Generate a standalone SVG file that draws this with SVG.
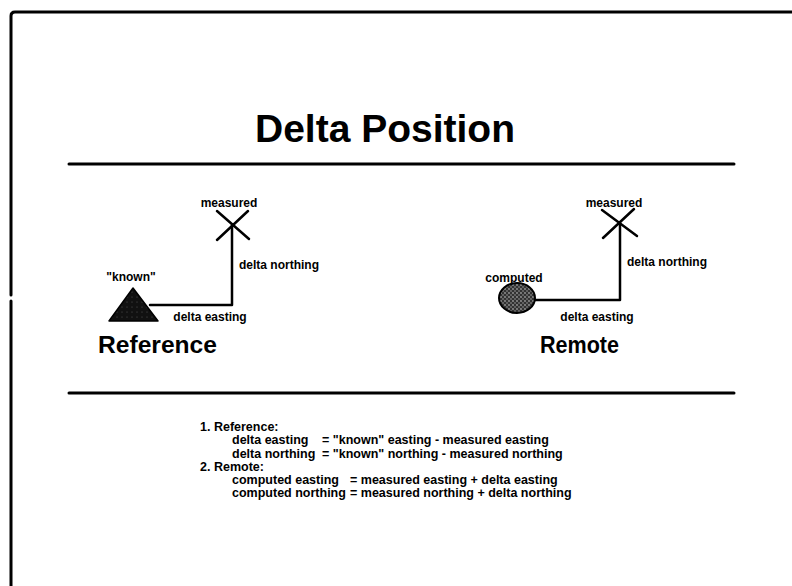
<svg xmlns="http://www.w3.org/2000/svg" width="792" height="586" viewBox="0 0 792 586">
<defs>
<style>
.t{font-family:"Liberation Sans",Arial,sans-serif;font-weight:bold;fill:#000}
.s{font-size:12px}
.eq{font-size:12.5px}
.ln{stroke:#000;stroke-width:2.5;fill:none;stroke-linecap:round;stroke-linejoin:round}
.rule{stroke:#000;stroke-width:3;fill:none;stroke-linecap:round}
</style>
<pattern id="dots" width="4" height="4" patternUnits="userSpaceOnUse">
<rect width="4" height="4" fill="#333"/>
<circle cx="1" cy="1" r="0.9" fill="#999"/>
<circle cx="3" cy="3" r="0.9" fill="#777"/>
</pattern>
<pattern id="tri" width="5" height="5" patternUnits="userSpaceOnUse">
<rect width="5" height="5" fill="#111"/>
<circle cx="2" cy="2" r="0.6" fill="#555"/>
</pattern>
</defs>
<rect width="792" height="586" fill="#fff"/>
<g id="frame">
<path class="rule" d="M11 295 V16 Q11 12 15 12 H792"/>
<path class="rule" d="M11 301 V586"/>
</g>
<g id="title"><text class="t" x="385" y="142" font-size="39" text-anchor="middle">Delta Position</text></g>
<g id="rules">
<line class="rule" x1="69" y1="164" x2="734" y2="164"/>
<line class="rule" x1="69" y1="393" x2="734" y2="393"/>
</g>
<g id="connectors">
<path class="ln" d="M150 305 H232 V225"/>
<path class="ln" d="M535 300 H620 V223"/>
</g>
<g id="known">
<polygon points="133,288 109,321 158,321" fill="url(#tri)" stroke="#000" stroke-width="1.5" stroke-linejoin="round"/>
<text class="t s" x="131" y="281" text-anchor="middle">"known"</text>
</g>
<g id="measured-left">
<path class="ln" d="M217 211 L249 239 M248 211 L217 240"/>
<text class="t s" x="229" y="207" text-anchor="middle">measured</text>
</g>
<g id="computed">
<ellipse cx="517" cy="298" rx="18" ry="15" fill="url(#dots)" stroke="#000" stroke-width="2"/>
<text class="t s" x="514" y="282" text-anchor="middle">computed</text>
</g>
<g id="measured-right">
<path class="ln" d="M602 210 L637 236 M634 209 L603 238"/>
<text class="t s" x="614" y="207" text-anchor="middle">measured</text>
</g>
<g id="labels">
<text class="t s" x="239" y="269">delta northing</text>
<text class="t s" x="210" y="321" text-anchor="middle">delta easting</text>
<text class="t s" x="627" y="266">delta northing</text>
<text class="t s" x="597" y="321" text-anchor="middle">delta easting</text>
</g>
<g id="captions">
<text class="t" x="98" y="353" font-size="23" textLength="119" lengthAdjust="spacingAndGlyphs">Reference</text>
<text class="t" x="540" y="353" font-size="23" textLength="79" lengthAdjust="spacingAndGlyphs">Remote</text>
</g>
<g id="equations">
<text class="t eq" x="200" y="431">1. Reference:</text>
<text class="t eq" x="232" y="444">delta easting</text>
<text class="t eq" x="322" y="444">= "known" easting - measured easting</text>
<text class="t eq" x="232" y="458">delta northing</text>
<text class="t eq" x="322" y="458">= "known" northing - measured northing</text>
<text class="t eq" x="200" y="471">2. Remote:</text>
<text class="t eq" x="232" y="484">computed easting</text>
<text class="t eq" x="350" y="484">= measured easting + delta easting</text>
<text class="t eq" x="232" y="497">computed northing</text>
<text class="t eq" x="350" y="497">= measured northing + delta northing</text>
</g>
</svg>
